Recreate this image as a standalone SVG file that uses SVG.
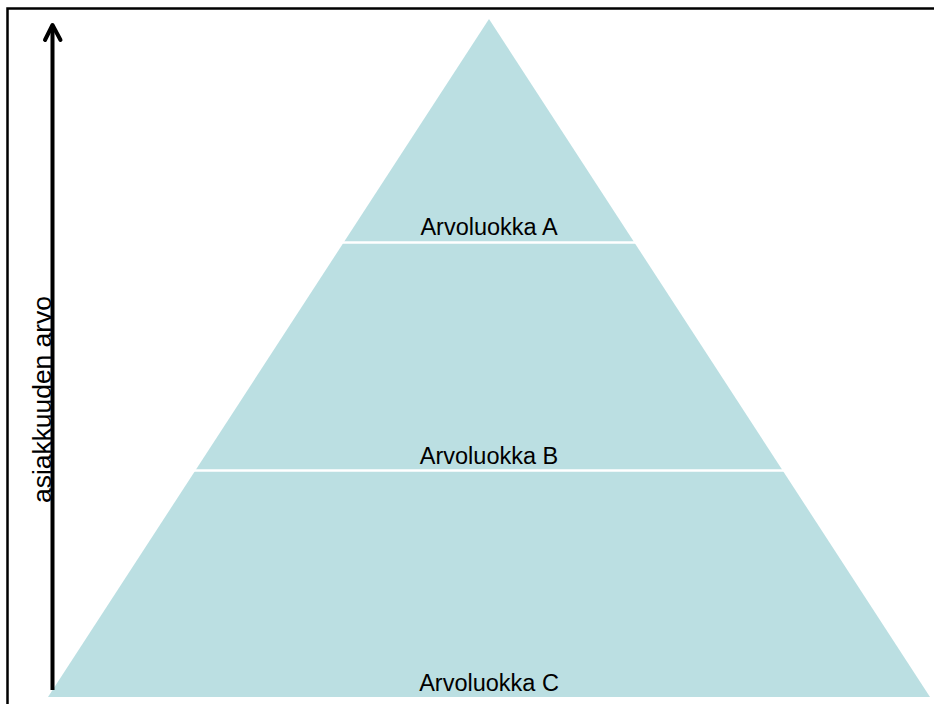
<svg xmlns="http://www.w3.org/2000/svg" width="934" height="704" viewBox="0 0 934 704">
<style>
.lbl{font-family:"Liberation Sans",Arial,sans-serif;font-size:23.5px;fill:#000;text-anchor:middle}
.sep{stroke:#fff;stroke-width:2.5}
</style>
<rect width="934" height="704" fill="#fff"/>
<rect x="7.5" y="8.5" width="940" height="710" fill="none" stroke="#000" stroke-width="2.5"/>
<g id="pyramid">
<polygon points="48,697 489,19 930,697" fill="#bbdfe2"/>
</g>
<g id="connectors">
<line class="sep" x1="340" y1="242.5" x2="640" y2="242.5"/>
<line class="sep" x1="190" y1="470.5" x2="788" y2="470.5"/>
<line x1="52.5" y1="690" x2="52.5" y2="27" stroke="#000" stroke-width="4"/>
<polyline points="45,40 52.5,25 60.5,40" fill="none" stroke="#000" stroke-width="4" stroke-linecap="round" stroke-linejoin="round"/>
</g>
<g id="levelA"><text class="lbl" x="489" y="235">Arvoluokka A</text></g>
<g id="levelB"><text class="lbl" x="489" y="464">Arvoluokka B</text></g>
<g id="levelC"><text class="lbl" x="489" y="691">Arvoluokka C</text></g>
<g id="axis-label"><text class="lbl" font-size="25" style="font-size:25px" x="0" y="0" transform="translate(50.5,399.5) rotate(-90)" textLength="207" lengthAdjust="spacingAndGlyphs">asiakkuuden arvo</text></g>
</svg>
